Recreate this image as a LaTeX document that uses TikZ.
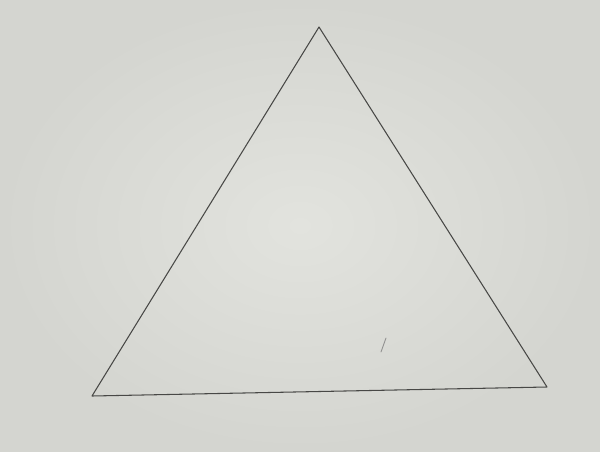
\documentclass[tikz,border=0pt]{standalone}
\usepackage{tikz}
\usetikzlibrary{backgrounds}
\usetikzlibrary{calc}

\definecolor{paper}{RGB}{212,213,208}
\definecolor{paperlight}{RGB}{226,227,222}
\definecolor{pencil}{RGB}{72,72,70}

\tikzset{
  pencilline/.style={draw=pencil, line width=0.6pt, line join=round},
  faintmark/.style={draw=pencil!60, line width=0.5pt, line cap=round}
}

\begin{document}
\begin{tikzpicture}[x=0.02cm,y=-0.02cm]
            % paper background, fixes the page size (600 x 451)
            \shade[inner color=paperlight, outer color=paper] (0,0) rectangle (600,451);
            \useasboundingbox (0,0) rectangle (600,451);
            \coordinate (apex)  at (319,27);  % top corner
            \coordinate (left)  at (92,396);  % lower left corner
            \coordinate (right) at (547,387); % lower right corner
            \coordinate (smudge) at (381,352);
            \draw[pencilline] (apex) -- (left) -- (right) -- cycle;
            \draw[faintmark] (smudge) -- ++(5,-14);
        \end{tikzpicture}
\end{document}
